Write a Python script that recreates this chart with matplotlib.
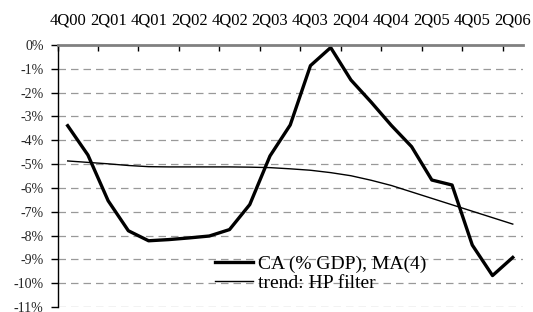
import matplotlib
matplotlib.use("Agg")
import matplotlib.pyplot as plt
import numpy as np

# Quarterly data, 4Q00 .. 2Q06
quarters = ["4Q00",
            "1Q01", "2Q01", "3Q01", "4Q01",
            "1Q02", "2Q02", "3Q02", "4Q02",
            "1Q03", "2Q03", "3Q03", "4Q03",
            "1Q04", "2Q04", "3Q04", "4Q04",
            "1Q05", "2Q05", "3Q05", "4Q05",
            "1Q06", "2Q06"]
ca_ma4 = [-3.39, -4.62, -6.54, -7.80, -8.22, -8.17, -8.10, -8.02, -7.75, -6.70,
          -4.66, -3.36, -0.87, -0.11, -1.47, -2.40, -3.38, -4.27, -5.67, -5.88,
          -8.40, -9.68, -8.92]
hp_trend = [-4.87, -4.93, -4.99, -5.06, -5.11, -5.12, -5.12, -5.12, -5.12, -5.13,
            -5.15, -5.20, -5.26, -5.36, -5.49, -5.68, -5.90, -6.17, -6.44, -6.71,
            -6.98, -7.25, -7.52]
y_ticks = list(range(0, -12, -1))

plt.rcParams["font.family"] = ["Liberation Serif", "DejaVu Serif"]

fig = plt.figure(figsize=(5.33, 3.12), dpi=100)
ax = fig.add_axes([0.108, 0.016, 0.873, 0.840])

x = np.arange(len(quarters))
ax.plot(x, ca_ma4, color="black", linewidth=2.4, label="CA (% GDP), MA(4)")
ax.plot(x, hp_trend, color="black", linewidth=1.0, label="trend: HP filter")

# horizontal dashed grid
for v in y_ticks[1:]:
    ax.axhline(v, color="#999999", linewidth=0.9, linestyle=(0, (6, 4)), zorder=0)

ax.set_xlim(-0.5, len(quarters) - 0.5)
ax.set_ylim(-11, 0)

# category axis on top, ticks between categories, labels every 2 quarters
ax.xaxis.tick_top()
ax.set_xticks(np.arange(-0.5, len(quarters) - 1, 2))
ax.set_xticklabels([])
ax.set_xticks(x[::2], minor=True)
ax.set_xticklabels(quarters[::2], minor=True, fontsize=12)
ax.tick_params(axis="x", which="major", direction="in", length=4, width=1,
               color="black", top=True, bottom=False)
ax.tick_params(axis="x", which="minor", length=0, pad=12, top=True, bottom=False)

ax.set_yticks(y_ticks)
ax.set_yticklabels([f"{v}%" for v in y_ticks], fontsize=10, color="#222222")
ax.tick_params(axis="y", direction="out", length=5, width=1, color="black", pad=5)

ax.spines["right"].set_visible(False)
ax.spines["bottom"].set_visible(False)
ax.spines["top"].set_color("#808080")
ax.spines["top"].set_linewidth(2)
ax.spines["left"].set_linewidth(1)

ax.legend(loc="center left", bbox_to_anchor=(0.338, 0.127), frameon=False,
          fontsize=14, handlelength=1.96, handletextpad=0.26,
          labelspacing=0.05, borderpad=0, borderaxespad=0)

fig.savefig("out.png", dpi=100)
